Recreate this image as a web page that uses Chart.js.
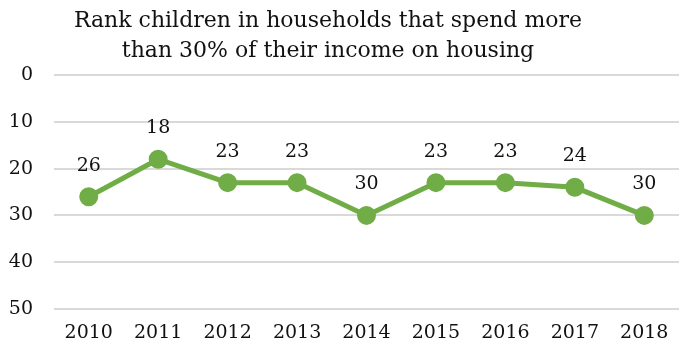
<!DOCTYPE html>
<html lang="en">
<head>
<meta charset="UTF-8">
<title>Rank chart</title>
<script src="https://cdn.jsdelivr.net/npm/chart.js"></script>
<style>
  html, body { margin: 0; padding: 0; background: #fff; }
  #wrap { width: 691px; height: 356px; }
</style>
</head>
<body>
<div id="wrap"><canvas id="rank-chart"></canvas></div>
<script>
const years = ['2010', '2011', '2012', '2013', '2014', '2015', '2016', '2017', '2018'];
const ranks = [26, 18, 23, 23, 30, 23, 23, 24, 30];
const titleLines = ['Rank children in households that spend more', 'than 30% of their income on housing'];

const green = '#70AD47';
const fontFamily = '"DejaVu Serif", serif';

// title is drawn by hand so it can sit a bit left of centre like the original
const chartTitle = {
  id: 'chartTitle',
  afterDraw(chart) {
    const ctx = chart.ctx;
    ctx.save();
    ctx.font = '22px ' + fontFamily;
    ctx.fillStyle = '#111';
    ctx.textAlign = 'center';
    ctx.textBaseline = 'middle';
    titleLines.forEach((line, i) => {
      ctx.fillText(line, 328, 21 + i * 30);
    });
    ctx.restore();
  }
};

// draws the value above each point
const pointLabels = {
  id: 'pointLabels',
  afterDatasetsDraw(chart) {
    const ctx = chart.ctx;
    const meta = chart.getDatasetMeta(0);
    ctx.save();
    ctx.font = '19px ' + fontFamily;
    ctx.fillStyle = '#111';
    ctx.textAlign = 'center';
    ctx.textBaseline = 'middle';
    meta.data.forEach((pt, i) => {
      ctx.fillText(ranks[i], pt.x, pt.y - 31);
    });
    ctx.restore();
  }
};

new Chart(document.getElementById('rank-chart'), {
  type: 'line',
  data: {
    labels: years,
    datasets: [{
      data: ranks,
      borderColor: green,
      backgroundColor: green,
      borderWidth: 5,
      pointRadius: 7,
      pointHoverRadius: 7,
      tension: 0
    }]
  },
  options: {
    responsive: true,
    maintainAspectRatio: false,
    animation: false,
    layout: { padding: { left: 9, right: 11, top: 75, bottom: 13 } },
    plugins: {
      legend: { display: false },
      tooltip: { enabled: false },
      title: { display: false }
    },
    scales: {
      x: {
        offset: true,
        grid: { display: false, drawTicks: false },
        border: { display: false },
        ticks: { color: '#111', font: { family: fontFamily, size: 19 }, padding: 13, maxRotation: 0 },
        afterFit(scale) { scale.height = 34; }
      },
      y: {
        reverse: true,
        min: 0,
        max: 50,
        ticks: { stepSize: 10, color: '#111', font: { family: fontFamily, size: 19 }, padding: 21 },
        grid: { color: '#d9d9d9', lineWidth: 2, drawTicks: false },
        border: { display: false },
        afterFit(scale) { scale.width = 45; }
      }
    }
  },
  plugins: [pointLabels, chartTitle]
});
</script>
</body>
</html>
